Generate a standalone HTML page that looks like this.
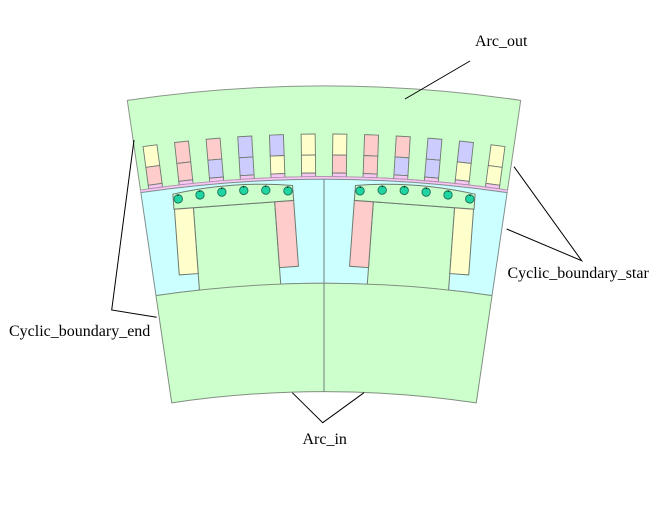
<!DOCTYPE html>
<html>
<head>
<meta charset="utf-8">
<style>
  html,body{margin:0;padding:0;background:#ffffff;}
  svg{display:block;}
  text{font-family:"Liberation Serif","DejaVu Serif",serif;font-size:16px;fill:#000;}
</style>
</head>
<body>
<svg width="659" height="507" viewBox="0 0 659 507" xmlns="http://www.w3.org/2000/svg">
  <rect x="0" y="0" width="659" height="507" fill="#ffffff"/>

  <!-- Stator (outer green) -->
  <path d="M127.30,100.37 A1354,1354 0 0 1 520.70,100.37 L507.52,190.10 A1263.3,1263.3 0 0 0 140.48,190.10 Z"
        fill="#ccffcc" stroke="#8a968a" stroke-width="1"/>

  <!-- Slots -->
  <g stroke="#6f7a6f" stroke-width="0.9">
    <g transform="rotate(-7.657,324,1440)">
      <rect x="317" y="134" width="14" height="21" fill="#ffffcc"/>
      <rect x="317" y="155" width="14" height="18" fill="#ffcccc"/>
      <rect x="317" y="173" width="14" height="3.7" fill="#f7c6f2"/>
    </g>
    <g transform="rotate(-6.265,324,1440)">
      <rect x="317" y="134" width="14" height="21" fill="#ffcccc"/>
      <rect x="317" y="155" width="14" height="18" fill="#ffcccc"/>
      <rect x="317" y="173" width="14" height="3.7" fill="#f7c6f2"/>
    </g>
    <g transform="rotate(-4.873,324,1440)">
      <rect x="317" y="134" width="14" height="21" fill="#ffcccc"/>
      <rect x="317" y="155" width="14" height="18" fill="#ccccff"/>
      <rect x="317" y="173" width="14" height="3.7" fill="#f7c6f2"/>
    </g>
    <g transform="rotate(-3.480,324,1440)">
      <rect x="317" y="134" width="14" height="21" fill="#ccccff"/>
      <rect x="317" y="155" width="14" height="18" fill="#ccccff"/>
      <rect x="317" y="173" width="14" height="3.7" fill="#f7c6f2"/>
    </g>
    <g transform="rotate(-2.088,324,1440)">
      <rect x="317" y="134" width="14" height="21" fill="#ccccff"/>
      <rect x="317" y="155" width="14" height="18" fill="#ffffcc"/>
      <rect x="317" y="173" width="14" height="3.7" fill="#f7c6f2"/>
    </g>
    <g transform="rotate(-0.696,324,1440)">
      <rect x="317" y="134" width="14" height="21" fill="#ffffcc"/>
      <rect x="317" y="155" width="14" height="18" fill="#ffffcc"/>
      <rect x="317" y="173" width="14" height="3.7" fill="#f7c6f2"/>
    </g>
    <g transform="rotate(0.696,324,1440)">
      <rect x="317" y="134" width="14" height="21" fill="#ffffcc"/>
      <rect x="317" y="155" width="14" height="18" fill="#ffcccc"/>
      <rect x="317" y="173" width="14" height="3.7" fill="#f7c6f2"/>
    </g>
    <g transform="rotate(2.088,324,1440)">
      <rect x="317" y="134" width="14" height="21" fill="#ffcccc"/>
      <rect x="317" y="155" width="14" height="18" fill="#ffcccc"/>
      <rect x="317" y="173" width="14" height="3.7" fill="#f7c6f2"/>
    </g>
    <g transform="rotate(3.480,324,1440)">
      <rect x="317" y="134" width="14" height="21" fill="#ffcccc"/>
      <rect x="317" y="155" width="14" height="18" fill="#ccccff"/>
      <rect x="317" y="173" width="14" height="3.7" fill="#f7c6f2"/>
    </g>
    <g transform="rotate(4.873,324,1440)">
      <rect x="317" y="134" width="14" height="21" fill="#ccccff"/>
      <rect x="317" y="155" width="14" height="18" fill="#ccccff"/>
      <rect x="317" y="173" width="14" height="3.7" fill="#f7c6f2"/>
    </g>
    <g transform="rotate(6.265,324,1440)">
      <rect x="317" y="134" width="14" height="21" fill="#ccccff"/>
      <rect x="317" y="155" width="14" height="18" fill="#ffffcc"/>
      <rect x="317" y="173" width="14" height="3.7" fill="#f7c6f2"/>
    </g>
    <g transform="rotate(7.657,324,1440)">
      <rect x="317" y="134" width="14" height="21" fill="#ffffcc"/>
      <rect x="317" y="155" width="14" height="18" fill="#ffffcc"/>
      <rect x="317" y="173" width="14" height="3.7" fill="#f7c6f2"/>
    </g>
  </g>

  <!-- Air gap band -->
  <path d="M140.48,190.10 A1263.3,1263.3 0 0 1 507.52,190.10 L507.14,192.68 A1260.7,1260.7 0 0 0 140.86,192.68 Z"
        fill="#f7c6f2" stroke="#b890b4" stroke-width="0.8"/>

  <!-- Rotor blue region -->
  <path d="M140.86,192.68 A1260.7,1260.7 0 0 1 507.14,192.68 L492.03,295.57 A1156.7,1156.7 0 0 0 155.97,295.57 Z"
        fill="#ccffff" stroke="#7f8f8f" stroke-width="1"/>

  <!-- Pole definition (left pole, local coordinates) -->
  <defs>
    <g id="pole">
      <rect x="283.5" y="201.5" width="81.5" height="92" fill="#ccffcc" stroke="#6f7a6f" stroke-width="1"/>
      <rect x="264.5" y="201.5" width="19" height="66" fill="#ffffcc" stroke="#6f7a6f" stroke-width="1"/>
      <rect x="365" y="201.5" width="19" height="66" fill="#ffcccc" stroke="#6f7a6f" stroke-width="1"/>
      <path d="M264,186.5 A400,400 0 0 1 384,186.5 L384,201.5 L264,201.5 Z" fill="#ccffcc" stroke="#6f7a6f" stroke-width="1"/>
      <g fill="#1fd6a2" stroke="#1d6f55" stroke-width="0.9">
        <circle cx="269" cy="191.6" r="4.2"/>
        <circle cx="291" cy="189.2" r="4.2"/>
        <circle cx="313" cy="187.95" r="4.2"/>
        <circle cx="335" cy="187.95" r="4.2"/>
        <circle cx="357" cy="189.2" r="4.2"/>
        <circle cx="379" cy="191.6" r="4.2"/>
      </g>
      <g stroke="#10261c" stroke-width="1.3">
        <line x1="269" y1="187.2" x2="269" y2="188.6"/>
        <line x1="291" y1="184.8" x2="291" y2="186.2"/>
        <line x1="313" y1="183.6" x2="313" y2="185"/>
        <line x1="335" y1="183.6" x2="335" y2="185"/>
        <line x1="357" y1="184.8" x2="357" y2="186.2"/>
        <line x1="379" y1="187.2" x2="379" y2="188.6"/>
      </g>
    </g>
  </defs>

  <g transform="rotate(-4.1765,324,1440)">
    <use href="#pole"/>
  </g>
  <g transform="translate(648,0) scale(-1,1) rotate(-4.1765,324,1440)">
    <use href="#pole"/>
  </g>

  <!-- Bottom green region -->
  <path d="M155.97,295.57 A1156.7,1156.7 0 0 1 492.03,295.57 L476.29,402.82 A1048.3,1048.3 0 0 0 171.71,402.82 Z"
        fill="#ccffcc" stroke="#7f8f7f" stroke-width="1"/>

  <!-- Center line -->
  <line x1="324" y1="179.3" x2="324" y2="391.7" stroke="#6f7f7f" stroke-width="1"/>

  <!-- Leader lines -->
  <g stroke="#000" stroke-width="1" fill="none">
    <line x1="470" y1="61" x2="405" y2="99"/>
    <polyline points="514,166.7 581.7,260.7 506.7,229"/>
    <polyline points="134,140 111.7,310 156.7,317.3"/>
    <polyline points="292.3,392.7 322.7,422.7 364,392.7"/>
  </g>

  <!-- Labels -->
  <text x="475" y="46">Arc_out</text>
  <text x="507.5" y="278">Cyclic_boundary_star</text>
  <text x="9" y="336">Cyclic_boundary_end</text>
  <text x="302.5" y="444">Arc_in</text>
</svg>
</body>
</html>
